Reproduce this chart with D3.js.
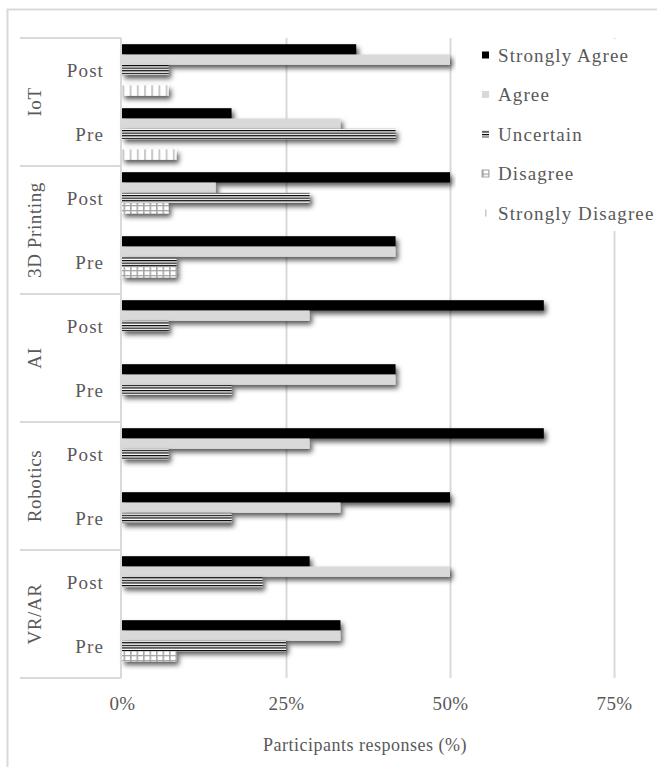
<!DOCTYPE html>
<html>
<head>
<meta charset="utf-8">
<script src="https://cdn.jsdelivr.net/npm/d3@7"></script>
<style>
  html, body { margin: 0; padding: 0; background: #fff; }
  svg { display: block; }
  svg text { font-family: "Liberation Serif", "DejaVu Serif", serif !important; fill: #595959; }
</style>
</head>
<body>
<svg id="chart" width="657" height="767"></svg>
<script>
// Technologies (top to bottom) and survey phases
const technologies = ["IoT", "3D Printing", "AI", "Robotics", "VR/AR"];
const phases = ["Post", "Pre"];
const responses = ["Strongly Agree", "Agree", "Uncertain", "Disagree", "Strongly Disagree"];

// Share of participants (%) per response, rows ordered as technology × phase
const stronglyAgree    = [35.7, 16.7, 50.0, 41.7, 64.3, 41.7, 64.3, 50.0, 28.6, 33.3];
const agree            = [50.0, 33.3, 14.3, 41.7, 28.6, 41.7, 28.6, 33.3, 50.0, 33.3];
const uncertain        = [ 7.1, 41.7, 28.6,  8.3,  7.1, 16.7,  7.1, 16.7, 21.4, 25.0];
const disagree         = [ 0.0,  0.0,  7.1,  8.3,  0.0,  0.0,  0.0,  0.0,  0.0,  8.3];
const stronglyDisagree = [ 7.1,  8.3,  0.0,  0.0,  0.0,  0.0,  0.0,  0.0,  0.0,  0.0];

const xTicks = [0, 25, 50, 75];

const seriesValues = [stronglyAgree, agree, uncertain, disagree, stronglyDisagree];
const rows = technologies.flatMap(t => phases.map(p => ({ tech: t, phase: p, key: t + "|" + p })));
const records = [];
rows.forEach((r, i) => {
  responses.forEach((s, j) => records.push({ key: r.key, series: s, value: seriesValues[j][i] }));
});

const FONT = '"Liberation Serif", "DejaVu Serif", serif';
const svg = d3.select("#chart");
const defs = svg.append("defs");

// Soft drop shadow under each bar
const shadow = defs.append("filter").attr("id", "shadow")
  .attr("x", "-10%").attr("y", "-40%").attr("width", "130%").attr("height", "220%");
shadow.append("feDropShadow").attr("dx", 2.5).attr("dy", 3.5).attr("stdDeviation", 2.4)
  .attr("flood-color", "#000").attr("flood-opacity", 0.65);

// Fill patterns
const pUnc = defs.append("pattern").attr("id", "pat-uncertain").attr("patternUnits", "userSpaceOnUse")
  .attr("width", 4).attr("height", 2.6);
pUnc.append("rect").attr("width", 4).attr("height", 2.6).attr("fill", "#fff");
pUnc.append("rect").attr("width", 4).attr("height", 1.2).attr("fill", "#000");

const pDis = defs.append("pattern").attr("id", "pat-disagree").attr("patternUnits", "userSpaceOnUse")
  .attr("width", 6.5).attr("height", 5);
pDis.append("rect").attr("width", 6.5).attr("height", 5).attr("fill", "#fff");
pDis.append("rect").attr("width", 1.6).attr("height", 5).attr("fill", "#a6a6a6");
pDis.append("rect").attr("width", 6.5).attr("height", 1.3).attr("fill", "#a6a6a6");

const pSD = defs.append("pattern").attr("id", "pat-sd").attr("patternUnits", "userSpaceOnUse")
  .attr("width", 7.2).attr("height", 10);
pSD.append("rect").attr("width", 7.2).attr("height", 10).attr("fill", "#fff");
pSD.append("rect").attr("width", 2).attr("height", 10).attr("fill", "#c8c8c8");

const fillFor = d3.scaleOrdinal().domain(responses)
  .range(["#000000", "#d9d9d9", "url(#pat-uncertain)", "url(#pat-disagree)", "url(#pat-sd)"]);

// Outer frame
svg.append("rect").attr("x", 7.5).attr("y", 9.5).attr("width", 700).attr("height", 800)
  .attr("fill", "none").attr("stroke", "#d9d9d9").attr("stroke-width", 2);

// Scales
const plotTop = 38, plotBottom = 678;
const x = d3.scaleLinear().domain([0, 75]).range([122, 614]);
const y = d3.scaleBand().domain(rows.map(r => r.key)).range([plotTop, plotBottom]);
const yInner = d3.scaleBand().domain(responses).range([0, y.bandwidth()]).paddingOuter(0.6);

// Vertical gridlines
const grid = svg.append("g").attr("transform", `translate(0,${plotBottom})`)
  .call(d3.axisBottom(x).tickValues(xTicks.filter(t => t > 0)).tickSize(-(plotBottom - plotTop)).tickFormat(""));
grid.select(".domain").remove();
grid.selectAll("line").attr("stroke", "#d9d9d9").attr("stroke-width", 2);

// Tick labels
const xAxis = svg.append("g").attr("transform", `translate(0,${plotBottom})`)
  .call(d3.axisBottom(x).tickValues(xTicks).tickSize(0).tickPadding(19).tickFormat(d => d + "%"));
xAxis.attr("font-family", FONT);
xAxis.select(".domain").remove();
xAxis.selectAll("text").attr("font-size", 19).attr("letter-spacing", 0.4).attr("fill", "#595959");

// Axis title
svg.append("text").attr("x", (x(0) + x(75)) / 2 - 3).attr("y", 751)
  .attr("text-anchor", "middle").attr("font-size", 18).attr("letter-spacing", 0.5)
  .text("Participants responses (%)");

// Bars
const bars = svg.append("g");
bars.selectAll("rect").data(records.filter(d => d.value > 0)).join("rect")
  .attr("x", x(0))
  .attr("y", d => y(d.key) + yInner(d.series))
  .attr("width", d => x(d.value) - x(0))
  .attr("height", yInner.bandwidth())
  .attr("fill", d => fillFor(d.series))
  .attr("filter", "url(#shadow)");

// Category axis (multi-level)
const cat = svg.append("g");
const axisX = 121;
cat.append("line").attr("x1", axisX).attr("x2", axisX).attr("y1", plotTop).attr("y2", plotBottom)
  .attr("stroke", "#d9d9d9").attr("stroke-width", 2);
const bounds = technologies.map(t => y(t + "|Post")).concat([plotBottom]);
cat.selectAll("line.sep").data(bounds).join("line").attr("class", "sep")
  .attr("x1", 20).attr("x2", axisX).attr("y1", d => d).attr("y2", d => d)
  .attr("stroke", "#d9d9d9").attr("stroke-width", 2);
cat.selectAll("text.phase").data(rows).join("text").attr("class", "phase")
  .attr("x", 104).attr("y", d => y(d.key) + y.bandwidth() / 2)
  .attr("text-anchor", "end").attr("dominant-baseline", "central")
  .attr("font-size", 19).attr("letter-spacing", 1.1)
  .text(d => d.phase);
cat.selectAll("text.tech").data(technologies).join("text").attr("class", "tech")
  .attr("transform", t => `translate(34,${y(t + "|Post") + y.bandwidth()}) rotate(-90)`)
  .attr("text-anchor", "middle").attr("dominant-baseline", "central")
  .attr("font-size", 19).attr("letter-spacing", 0.6)
  .text(t => t);

// Legend
const legend = svg.append("g");
legend.append("rect").attr("x", 456).attr("y", 39).attr("width", 199).attr("height", 192).attr("fill", "#fff");
const item = legend.selectAll("g.item").data(responses).join("g").attr("class", "item")
  .attr("transform", (d, i) => `translate(482,${55 + i * 39.5})`);
item.append("rect").attr("x", 0).attr("y", -3.5).attr("width", 7).attr("height", 7)
  .attr("fill", d => d === "Strongly Disagree" ? "none" : fillFor(d))
  .attr("stroke", d => d === "Disagree" ? "#a6a6a6" : "none");
item.filter(d => d === "Strongly Disagree").append("rect")
  .attr("x", 3).attr("y", -3.5).attr("width", 1.5).attr("height", 7).attr("fill", "#c8c8c8");
item.append("text").attr("x", 16).attr("y", 0).attr("dominant-baseline", "central")
  .attr("font-size", 19).attr("letter-spacing", 1.1).text(d => d);

svg.selectAll("text").attr("font-family", FONT);
</script>
</body>
</html>
